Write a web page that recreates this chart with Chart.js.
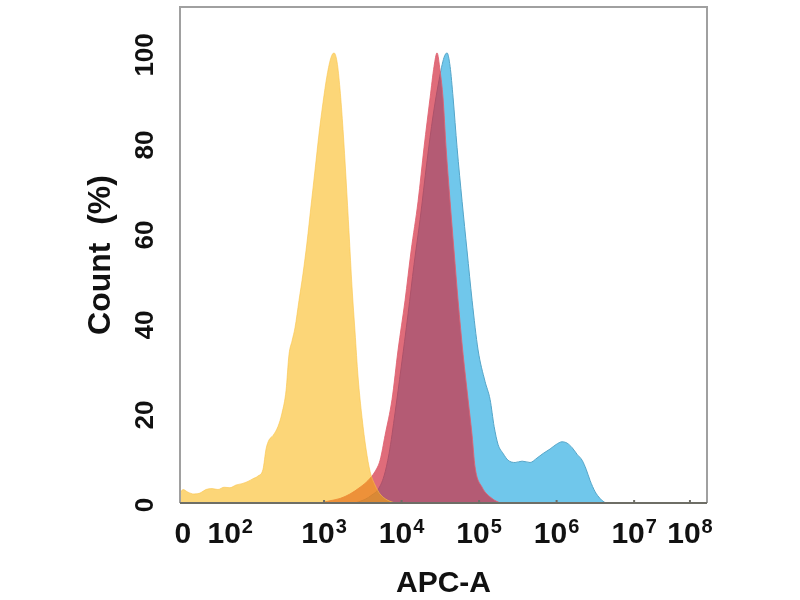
<!DOCTYPE html>
<html lang="en">
<head>
  <meta charset="UTF-8" />
  <title>APC-A histogram overlay</title>
  <script src="https://cdn.jsdelivr.net/npm/chart.js@4"></script>
  <style>
    body { margin: 0; background: #fff; }
    canvas { display: block; }
  </style>
</head>
<body>

  <canvas id="histChart" width="800" height="600"></canvas>

  <script>
    // x = display decade of APC-A (log10 units), y = Count (%)
    const yellowX = [1.142, 1.181, 1.245, 1.323, 1.400, 1.477, 1.555, 1.632, 1.710, 1.787, 1.865, 1.942,
      2.019, 2.084, 2.148, 2.213, 2.252, 2.290, 2.342, 2.406, 2.458, 2.510, 2.548, 2.587, 2.626, 2.677,
      2.729, 2.781, 2.832, 2.884, 2.935, 2.987, 3.039, 3.090, 3.129, 3.168, 3.206, 3.245, 3.284, 3.323,
      3.361, 3.400, 3.439, 3.490, 3.542, 3.594, 3.658, 3.723, 3.813, 3.916];
    const yellowY = [2.2, 3.0, 2.4, 2.0, 2.2, 3.0, 3.2, 3.0, 3.5, 3.4, 4.0, 4.3,
      4.8, 5.4, 6.0, 7.5, 12, 14, 15, 17, 20, 25, 33, 36, 39, 45,
      51, 58, 66, 74, 82, 89, 95, 99, 100, 98, 92, 83, 72, 60,
      48, 38, 28, 19, 12, 7, 4, 2, 0.7, 0];

    const redX = [2.948, 3.077, 3.206, 3.335, 3.465, 3.568, 3.658, 3.723, 3.787, 3.877, 3.955, 4.045,
      4.123, 4.213, 4.290, 4.368, 4.419, 4.458, 4.497, 4.535, 4.574, 4.626, 4.677, 4.729, 4.794,
      4.858, 4.910, 4.948, 5.039, 5.168, 5.271];
    const redY = [0, 0.5, 1, 2, 3.5, 5, 7, 9.5, 15, 23, 34, 45,
      56, 67, 79, 90, 97, 100, 96, 90, 79, 67, 56, 45, 33,
      23, 15, 8, 3.5, 1, 0];

    const blueX = [3.400, 3.529, 3.619, 3.697, 3.774, 3.839, 3.916, 3.994, 4.084, 4.161, 4.239, 4.329,
      4.406, 4.484, 4.548, 4.587, 4.626, 4.665, 4.716, 4.781, 4.845, 4.910, 4.987, 5.077, 5.142,
      5.194, 5.245, 5.310, 5.374, 5.465, 5.555, 5.658, 5.748, 5.826, 5.916, 5.994, 6.071, 6.135,
      6.200, 6.265, 6.329, 6.381, 6.432, 6.497, 6.561, 6.613, 6.665];
    const blueY = [0, 0.8, 1.8, 3, 6, 11, 20, 30, 42, 53, 63, 76,
      86, 94, 99, 100, 97, 90, 79, 67, 56, 45, 34, 27, 23,
      17, 13, 11, 9.5, 9, 9.3, 9, 10, 11, 12, 13, 13.6, 13.3,
      12.3, 10.8, 9.5, 7.5, 5, 2.5, 1, 0.2, 0];

    // axis ticks (biexponential display: 0 and 10^2 are compressed at the low end)
    const xTickValues = [1.18, 1.79, 3, 4, 5, 6, 7, 7.72];
    const xTickBase = ['0', '10', '10', '10', '10', '10', '10', '10'];
    const xTickExp = ['', '2', '3', '4', '5', '6', '7', '8'];
    const yTickValues = [0, 20, 40, 60, 80, 100];

    const toPoints = (xs, ys) => xs.map((x, i) => ({ x: x, y: ys[i] }));
    const FONT = '"Liberation Sans", Arial, sans-serif';

    const framePlugin = {
      id: 'frame',
      afterDatasetsDraw(chart) {
        const { ctx, chartArea: a } = chart;
        ctx.save();
        ctx.lineWidth = 2;
        ctx.strokeStyle = '#a0a0a0';
        ctx.beginPath();
        ctx.moveTo(a.left, a.bottom);
        ctx.lineTo(a.left, a.top);
        ctx.lineTo(a.right, a.top);
        ctx.lineTo(a.right, a.bottom);
        ctx.stroke();
        ctx.strokeStyle = '#6e6e66';
        ctx.beginPath();
        ctx.moveTo(a.left, a.bottom);
        ctx.lineTo(a.right, a.bottom);
        ctx.stroke();
        // small tick marks on the bottom axis
        xTickValues.slice(2).forEach(v => {
          const px = chart.scales.x.getPixelForValue(v);
          ctx.beginPath();
          ctx.moveTo(px, a.bottom - 3);
          ctx.lineTo(px, a.bottom + 1);
          ctx.stroke();
        });
        ctx.restore();
      },
      afterDraw(chart) {
        const { ctx } = chart;
        const xs = chart.scales.x;
        const ys = chart.scales.y;
        ctx.save();
        ctx.fillStyle = '#111';

        // x tick labels with superscript exponents
        xTickValues.forEach((v, i) => {
          const px = xs.getPixelForValue(v);
          ctx.font = 'bold 30px ' + FONT;
          const wb = ctx.measureText(xTickBase[i]).width;
          ctx.font = 'bold 20px ' + FONT;
          const we = xTickExp[i] ? ctx.measureText(xTickExp[i]).width + 1 : 0;
          const x0 = px - (wb + we) / 2;
          ctx.textAlign = 'left';
          ctx.textBaseline = 'alphabetic';
          ctx.font = 'bold 30px ' + FONT;
          ctx.fillText(xTickBase[i], x0, xs.top + 40);
          if (xTickExp[i]) {
            ctx.font = 'bold 20px ' + FONT;
            ctx.fillText(xTickExp[i], x0 + wb + 1, xs.top + 30);
          }
        });

        // rotated y tick labels
        ctx.font = 'bold 26px ' + FONT;
        ctx.textAlign = 'center';
        ctx.textBaseline = 'middle';
        yTickValues.forEach(v => {
          ctx.save();
          ctx.translate(ys.right - 34, ys.getPixelForValue(v) + 2);
          ctx.rotate(-Math.PI / 2);
          ctx.fillText(String(v), 0, 0);
          ctx.restore();
        });
        ctx.restore();
      }
    };

    new Chart(document.getElementById('histChart'), {
      type: 'line',
      data: {
        datasets: [
          {
            label: 'Yellow',
            data: toPoints(yellowX, yellowY),
            backgroundColor: 'rgba(250, 178, 0, 0.53)',
            borderColor: 'rgba(250, 195, 70, 0.6)',
            borderWidth: 1,
            fill: 'origin',
            order: 0
          },
          {
            label: 'Red',
            data: toPoints(redX, redY),
            backgroundColor: 'rgba(210, 45, 65, 0.7)',
            borderColor: 'rgba(225, 95, 110, 0.85)',
            borderWidth: 1,
            fill: 'origin',
            order: 1
          },
          {
            label: 'Blue',
            data: toPoints(blueX, blueY),
            backgroundColor: 'rgb(112, 199, 235)',
            borderColor: 'rgb(85, 165, 200)',
            borderWidth: 1,
            fill: 'origin',
            order: 2
          }
        ]
      },
      options: {
        responsive: false,
        animation: false,
        layout: { padding: { left: 82, top: 7, right: 93, bottom: 0 } },
        elements: {
          point: { radius: 0 },
          line: { tension: 0.3, cubicInterpolationMode: 'monotone' }
        },
        plugins: {
          legend: { display: false },
          tooltip: { enabled: false }
        },
        scales: {
          x: {
            type: 'linear',
            min: 1.142,
            max: 7.94,
            grid: { display: false },
            border: { display: false },
            ticks: { display: false },
            afterFit: s => { s.height = 97; },
            title: {
              display: true,
              text: 'APC-A',
              color: '#111',
              font: { family: FONT, size: 30, weight: 'bold', lineHeight: 1 },
              padding: { top: 0, bottom: 1 }
            }
          },
          y: {
            type: 'linear',
            min: 0,
            max: 110.2,
            grid: { display: false },
            border: { display: false },
            ticks: { display: false },
            afterFit: s => { s.width = 98; },
            title: {
              display: true,
              text: 'Count  (%)',
              color: '#111',
              font: { family: FONT, size: 32, weight: 'bold', lineHeight: 1.2 },
              padding: { top: 0, bottom: 0 }
            }
          }
        }
      },
      plugins: [framePlugin]
    });
  </script>

</body>
</html>
